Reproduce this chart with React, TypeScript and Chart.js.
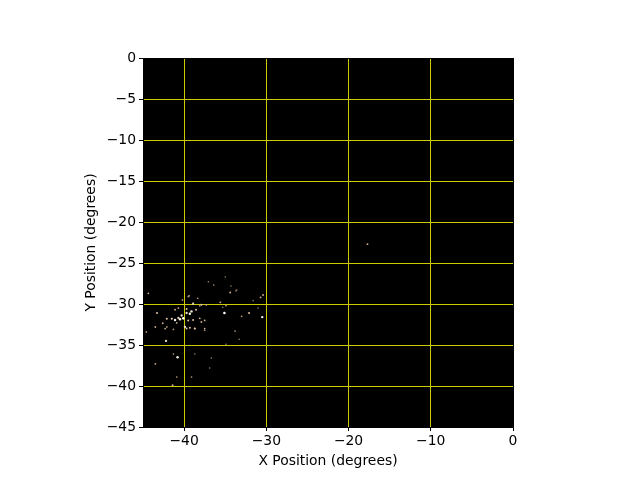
import React, { useEffect, useRef } from "react";
import { Chart, registerables } from "chart.js";

Chart.register(...registerables);

// Source positions (degrees) and relative brightness (0..1)
const xPos: number[] = [
  -44.35, -39.4, -37.05, -36.4, -35.0, -34.4, -34.3, -33.6, -30.7, -30.4,
  -40.2, -38.9, -38.1, -35.6, -35.1, -34.9, -32.1, -30.5, -43.3, -43.5,
  -44.6, -42.3, -42.2, -39.7, -38.7, -37.9, -37.5, -33.8, -33.3, -34.9,
  -40.8, -41.3, -43.5, -38.7, -36.7, -36.9, -40.9, -39.1, -41.4, -17.7,
  -39.5, -38.9, -37.9, -37.3, -40.7, -41.1, -39.7, -39.1, -38.55, -39.7,
  -39.3, -40.3, -40.7, -40.1, -40.5, -41.1, -41.5, -42.1, -42.6, -40.9,
  -39.5, -38.9, -38.1, -37.5, -39.9, -39.3, -38.7, -37.5, -42.1, -41.3,
  -33.7, -38.35, -35.3, -33.0, -31.0, -31.6,
];
const yPos: number[] = [
  -28.7, -29.0, -27.3, -27.7, -26.7, -28.6, -27.8, -28.3, -29.2, -28.9,
  -29.5, -29.9, -30.2, -29.8, -31.1, -30.2, -31.1, -31.6, -31.1, -32.8,
  -33.4, -33.0, -34.5, -33.0, -33.0, -32.2, -33.2, -33.3, -34.3, -34.9,
  -36.5, -36.1, -37.3, -36.1, -36.6, -37.8, -38.9, -38.9, -39.9, -22.7,
  -29.1, -30.0, -30.1, -30.1, -30.5, -30.7, -30.6, -30.9, -30.7, -31.1,
  -31.2, -31.4, -31.7, -31.75, -31.85, -31.95, -31.8, -31.8, -32.35, -32.3,
  -32.0, -31.95, -31.75, -32.0, -32.8, -32.9, -33.0, -33.0, -32.8, -33.1,
  -28.4, -29.3, -30.4, -31.5, -30.5, -29.6,
];
const brightness: number[] = [
  0.5, 0.5, 0.3, 0.3, 0.3, 0.5, 0.3, 0.3, 0.5, 0.5,
  0.4, 0.5, 0.4, 0.5, 1.0, 0.4, 0.6, 0.9, 0.6, 0.5,
  0.4, 0.5, 0.8, 0.6, 0.5, 0.5, 0.4, 0.4, 0.3, 0.3,
  0.9, 0.4, 0.5, 0.3, 0.3, 0.3, 0.4, 0.4, 0.5, 0.5,
  0.4, 0.7, 0.6, 0.5, 0.5, 0.5, 0.6, 0.9, 0.6, 0.8,
  0.9, 0.8, 0.7, 1.0, 0.9, 0.9, 0.7, 0.6, 0.5, 0.5,
  0.6, 0.6, 0.5, 0.5, 0.8, 0.6, 0.6, 0.5, 0.4, 0.4,
  0.3, 0.4, 0.3, 0.4, 0.3, 0.3,
];

const xTicks: number[] = [-40, -30, -20, -10, 0];
const yTicks: number[] = [0, -5, -10, -15, -20, -25, -30, -35, -40, -45];

const FONT = "'DejaVu Sans', sans-serif";
const GRID = "#cccc00";

function colorFor(b: number): string {
  const lo = [85, 65, 45];
  const mid = [225, 195, 160];
  const hi = [255, 255, 250];
  let c: number[];
  if (b < 0.6) {
    const t = b / 0.6;
    c = lo.map((v, i) => Math.round(v + (mid[i] - v) * t));
  } else {
    const t = (b - 0.6) / 0.4;
    c = mid.map((v, i) => Math.round(v + (hi[i] - v) * t));
  }
  return `rgb(${c[0]},${c[1]},${c[2]})`;
}

const fmt = (v: number) => (v < 0 ? "\u2212" + Math.abs(v) : String(v));

export default function App() {
  const ref = useRef<HTMLCanvasElement>(null);
  useEffect(() => {
    document.body.style.margin = "0";
    const bg = {
      id: "bg",
      beforeDraw(chart: any) {
        const { ctx, chartArea } = chart;
        ctx.save();
        ctx.fillStyle = "#ffffff";
        ctx.fillRect(0, 0, chart.width, chart.height);
        ctx.fillStyle = "#000000";
        ctx.fillRect(chartArea.left, chartArea.top, chartArea.right - chartArea.left, chartArea.bottom - chartArea.top);
        ctx.restore();
      },
    };
    const data = xPos.map((x, i) => ({ x, y: yPos[i] }));
    const chart = new Chart(ref.current!, {
      type: "scatter",
      data: {
        datasets: [
          {
            data,
            pointRadius: brightness.map((b) => 0.55 + 0.75 * b),
            pointBackgroundColor: brightness.map(colorFor),
            pointBorderWidth: 0,
          },
        ],
      },
      plugins: [bg],
      options: {
        responsive: false,
        animation: false,
        layout: { padding: { left: 79, top: 58, right: 127, bottom: 6 } },
        plugins: { legend: { display: false }, tooltip: { enabled: false } },
        scales: {
          x: {
            type: "linear",
            min: -45,
            max: 0,
            afterBuildTicks: (s: any) => { s.ticks = xTicks.map((v) => ({ value: v })); },
            afterFit: (s: any) => { s.height = 47; },
            border: { color: "#000", width: 1 },
            grid: {
              color: (c: any) => (c.tick && c.tick.value === 0 ? "#000" : GRID),
              tickColor: "#000",
              tickLength: 4,
              lineWidth: 1,
            },
            ticks: {
              color: "#000",
              font: { family: FONT, size: 13.9 },
              padding: 2,
              maxRotation: 0,
              callback: (v: any) => fmt(Number(v)),
            },
            title: {
              display: true,
              text: "X Position (degrees)",
              color: "#000",
              font: { family: FONT, size: 13.9 },
              padding: { top: 4, bottom: 4 },
            },
          },
          y: {
            type: "linear",
            min: -45,
            max: 0,
            afterBuildTicks: (s: any) => { s.ticks = yTicks.map((v) => ({ value: v })); },
            afterFit: (s: any) => { s.width = 64; },
            border: { color: "#000", width: 1 },
            grid: {
              color: (c: any) => (c.tick && (c.tick.value === 0 || c.tick.value === -45) ? "#000" : GRID),
              tickColor: "#000",
              tickLength: 4,
              lineWidth: 1,
            },
            ticks: {
              color: "#000",
              font: { family: FONT, size: 13.9 },
              padding: 3,
              callback: (v: any) => fmt(Number(v)),
            },
            title: {
              display: true,
              text: "Y Position (degrees)",
              color: "#000",
              font: { family: FONT, size: 13.9 },
              padding: { top: 4, bottom: 4 },
            },
          },
        },
      },
    } as any);
    return () => chart.destroy();
  }, []);
  return (
    <div style={{ width: 640, height: 480 }}>
      <canvas ref={ref} width={640} height={480} />
    </div>
  );
}
